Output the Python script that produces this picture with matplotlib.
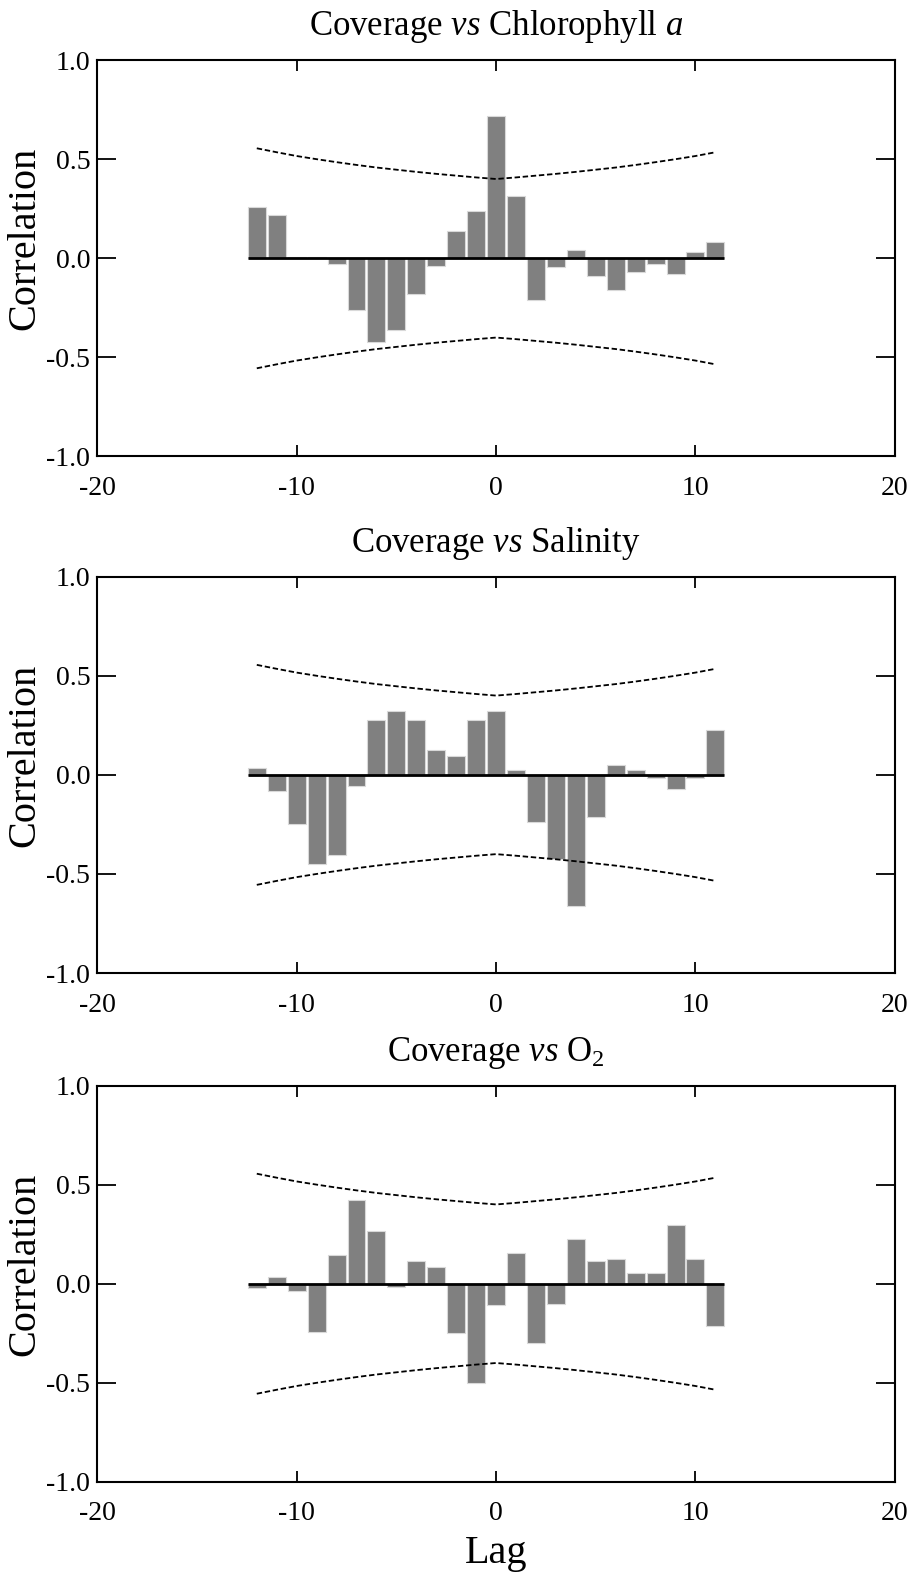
#!/usr/bin/env python3
import matplotlib
matplotlib.use("Agg")
import matplotlib.pyplot as plt
from matplotlib.ticker import FuncFormatter

plt.rcParams["font.family"] = ["Liberation Serif", "DejaVu Serif"]
plt.rcParams["mathtext.fontset"] = "custom"
plt.rcParams["mathtext.rm"] = "Liberation Serif"
plt.rcParams["mathtext.it"] = "Liberation Serif:italic"

lags = list(range(-12, 12))

# confidence limits
upper = [0.555, 0.535, 0.516, 0.500, 0.485, 0.471, 0.458, 0.447, 0.436, 0.426,
         0.417, 0.408, 0.400, 0.408, 0.417, 0.426, 0.436, 0.447, 0.458, 0.471,
         0.485, 0.500, 0.516, 0.535]
lower = [-u for u in upper]

chl = [0.26, 0.22, 0.007, 0.007, -0.03, -0.26, -0.42, -0.36, -0.18, -0.04,
       0.14, 0.24, 0.72, 0.315, -0.21, -0.045, 0.044, -0.088, -0.16, -0.067,
       -0.03, -0.077, 0.032, 0.081]
sal = [0.034, -0.081, -0.246, -0.448, -0.404, -0.054, 0.278, 0.32, 0.278, 0.123,
       0.093, 0.278, 0.32, 0.027, -0.236, -0.423, -0.66, -0.214, 0.049, 0.027,
       -0.017, -0.071, -0.017, 0.224]
oxy = [-0.022, 0.035, -0.037, -0.244, 0.146, 0.423, 0.264, -0.015, 0.114, 0.084,
       -0.249, -0.5, -0.106, 0.157, -0.298, -0.101, 0.227, 0.114, 0.126, 0.052,
       0.052, 0.295, 0.126, -0.214]

titles = [r"Coverage $\mathit{vs}$ Chlorophyll $\mathit{a}$",
          r"Coverage $\mathit{vs}$ Salinity",
          r"Coverage $\mathit{vs}$ O$_2$"]
series = [chl, sal, oxy]

fig = plt.figure(figsize=(9.15, 15.73), dpi=100)
bottoms = [0.7098, 0.3814, 0.0579]
fmt = FuncFormatter(lambda v, p: f"{v:.1f}".replace("\u2212", "-"))

for i, (vals, title) in enumerate(zip(series, titles)):
    ax = fig.add_axes([0.1063, bottoms[i], 0.8717, 0.252])
    ax.bar(lags, vals, width=0.9, color="#808080", edgecolor="#d9d9d9", linewidth=0.8, zorder=2)
    ax.hlines(0, lags[0] - 0.45, lags[-1] + 0.45, color="black", linewidth=2, zorder=3)
    ax.plot(lags, upper, color="black", linestyle=(0, (3, 1.5)), linewidth=1.3)
    ax.plot(lags, lower, color="black", linestyle=(0, (3, 1.5)), linewidth=1.3)
    ax.set_xlim(-20, 20)
    ax.set_ylim(-1, 1)
    ax.set_xticks([-20, -10, 0, 10, 20])
    ax.set_yticks([-1, -0.5, 0, 0.5, 1])
    ax.xaxis.set_major_formatter(FuncFormatter(lambda v, p: f"{int(v)}"))
    ax.yaxis.set_major_formatter(fmt)
    ax.tick_params(direction="in", top=True, right=True, width=1.3, labelsize=20)
    ax.tick_params(axis="x", pad=14, length=8)
    ax.tick_params(axis="y", pad=5, length=14)
    for s in ax.spines.values():
        s.set_linewidth(1.5)
    ax.set_title(title, fontsize=25, pad=18)
    ax.set_ylabel("Correlation", fontsize=29)
    ax.yaxis.set_label_coords(-0.068, 0.55)
    if i == 2:
        ax.set_xlabel("Lag", fontsize=29, labelpad=6)

plt.savefig("out.png", dpi=100)
